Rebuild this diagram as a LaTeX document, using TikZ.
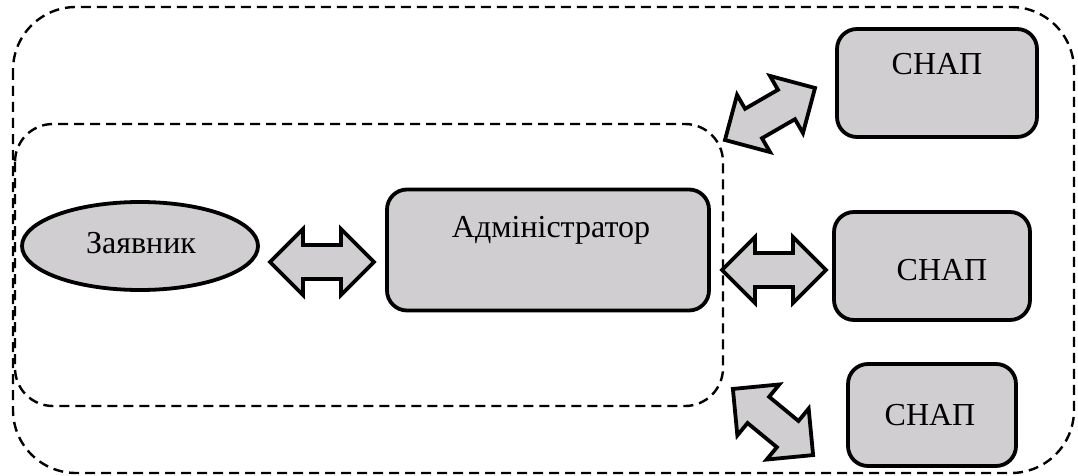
\documentclass[tikz,border=0pt]{standalone}
\usepackage{fontspec}
\setmainfont{Liberation Serif}
\usetikzlibrary{shapes.geometric}
\definecolor{boxgray}{RGB}{208,206,208}
\tikzset{
  block/.style={draw, line width=3.8pt, fill=boxgray, rounded corners=20pt, inner sep=0pt},
  frame/.style={line width=2.4pt, dash pattern=on 10pt off 6pt},
  txt/.style={anchor=base, font=\fontsize{32}{38}\selectfont},
  pics/twoway/.style={code={
    \draw[line width=3.8pt, fill=boxgray] (-52,0) -- (-19,33) -- (-19,17) -- (19,17) -- (19,33)
      -- (52,0) -- (19,-33) -- (19,-17) -- (-19,-17) -- (-19,-33) -- cycle;
  }}
}
\begin{document}
\begin{tikzpicture}[x=1pt,y=-1pt]
                \useasboundingbox (0,0) rectangle (1078,476);
                \draw[frame, rounded corners=63pt] (13,7) rectangle (1074,473);
                \draw[frame, rounded corners=38pt] (15,124) rectangle (723,406);

                \node[ellipse, draw, line width=3.8pt, fill=boxgray, minimum width=236pt, minimum height=88pt] (zayavnyk) at (140,246) {};
                \node[block, minimum width=322pt, minimum height=121pt] (admin) at (548,250) {};
                \node[block, minimum width=200pt, minimum height=108pt] (snap1) at (937,83) {};
                \node[block, minimum width=196pt, minimum height=108pt] (snap2) at (932,266) {};
                \node[block, minimum width=168pt, minimum height=102pt] (snap3) at (932,415) {};

                \node[txt] at (141,253) {Заявник};
                \node[txt] at (551,237) {Адміністратор};
                \node[txt] at (937,75) {СНАП};
                \node[txt] at (942,280) {СНАП};
                \node[txt] at (930,425) {СНАП};

                \pic at (322,262) {twoway};
                \pic at (774,270) {twoway};
                \pic[rotate=30] at (770,114) {twoway};
                \pic[rotate=-39.5] at (773,422) {twoway};
\end{tikzpicture}
\end{document}
